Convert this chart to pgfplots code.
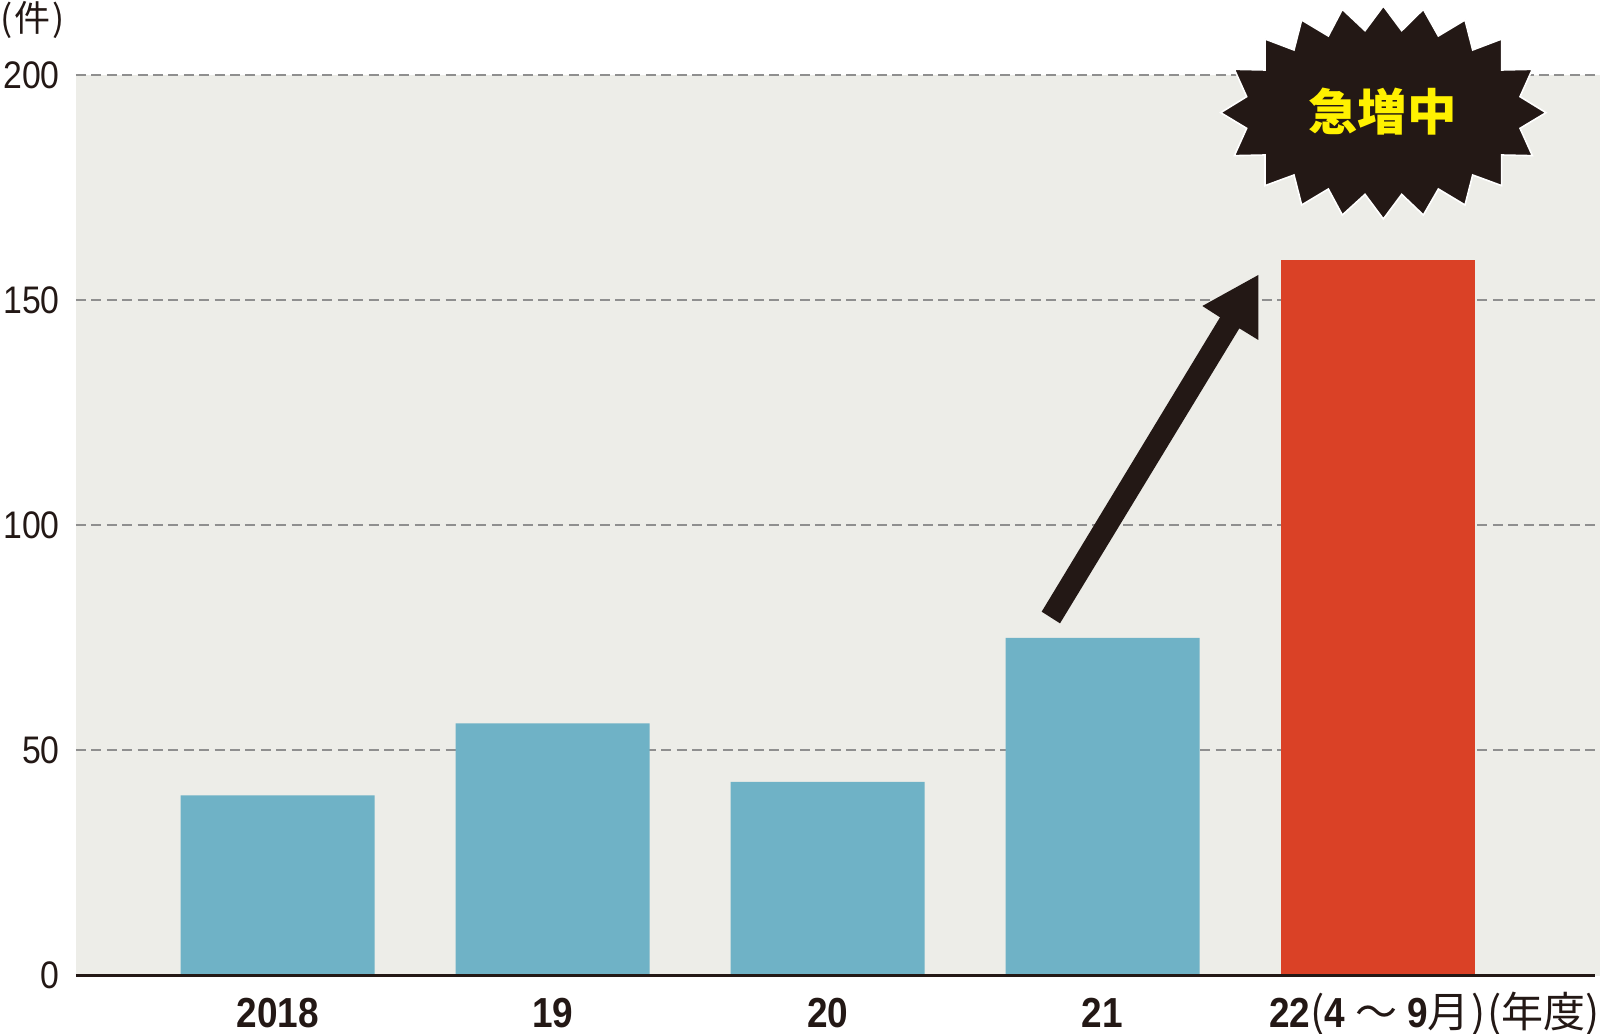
\documentclass[border=0pt]{standalone}
\usepackage{fontspec}
\setmainfont{Liberation Sans}[FakeStretch=0.88]
\newfontfamily\cjk{Noto Sans CJK JP}
\usepackage{pgfplots}
\pgfplotsset{compat=1.18}
\definecolor{bgc}{HTML}{EDEDE8}
\definecolor{barblue}{HTML}{6FB2C6}
\definecolor{barred}{HTML}{DA4126}
\definecolor{txt}{HTML}{231815}
\definecolor{gridc}{HTML}{8F8F8F}
\definecolor{yel}{HTML}{FFF100}
\begin{document}
\begin{tikzpicture}
\useasboundingbox (-38pt,-28.75pt) rectangle (762pt,487.75pt);
\begin{axis}[
 at={(0pt,0pt)}, anchor=south west,
 scale only axis, width=762pt, height=450pt,
 xmin=-0.733, xmax=4.809, ymin=0, ymax=200,
 axis background/.style={fill=bgc},
 axis line style={draw=none},
 major tick length=0pt,
 ytick={0,50,100,150,200},
 xtick={0,1,2,3,4},
 xticklabels={2018,19,20,21,{22{\cjk\mdseries(}4\hspace{5pt}{\cjk\mdseries 〜}\hspace{5pt}9{\cjk\mdseries 月\hspace{1pt})}}},
 ymajorgrids,
 grid style={gridc, line width=1pt, dash pattern=on 5pt off 2.7pt},
 yticklabel style={anchor=east, inner sep=0pt, xshift=-8pt, font=\fontsize{19.2}{20}\selectfont, text=txt},
 xticklabel style={anchor=base, inner sep=0pt, yshift=-26pt, font=\fontsize{21}{22}\selectfont\bfseries, text=txt},
 /pgf/number format/assume math mode=true,
 clip=false,
]
\addplot[ybar, bar width=97pt, bar shift=0pt, fill=barblue, draw=none] coordinates {(0,40) (1,56) (2,43) (3,75)};
\addplot[ybar, bar width=97pt, bar shift=0pt, fill=barred, draw=none] coordinates {(4,159)};
\draw[txt, line width=1.5pt] (rel axis cs:0,0) -- (rel axis cs:0.997,0);
\end{axis}
\node[anchor=west, inner sep=0pt, text=txt, font=\cjk\fontsize{18}{20}\selectfont] at (-38pt,477.75pt) {(\hspace{1pt}件\hspace{1pt})};
\node[anchor=base east, inner sep=0pt, text=txt, font=\cjk\fontsize{21}{22}\selectfont] at (762pt,-26pt) {(年度)};
% arrow
\begin{scope}[shift={(462pt,357.75pt)}, x=0.16667pt, y=-0.16667pt]
\fill[txt] (125,1055) -- (660,172) -- (607,138) -- (775,45) -- (775,240) -- (718,205) -- (180,1090) -- cycle;
\end{scope}
% starburst
\begin{scope}[shift={(552pt,487.75pt)}, x=0.16667pt, y=-0.16667pt]
\filldraw[fill=txt, draw=white, line width=0.8pt]
 (610,18) -- (665,92) -- (730,28) -- (775,108) -- (855,60) -- (878,150) -- (965,117) -- (965,210) -- (1057,208) -- (1020,290) -- (1098,338) -- (1020,385) -- (1057,467) -- (965,465) -- (965,557) -- (878,525) -- (855,615) -- (775,567) -- (730,645) -- (665,583) -- (610,657) -- (555,583) -- (487,645) -- (445,567) -- (365,615) -- (342,525) -- (255,557) -- (255,465) -- (163,467) -- (200,385) -- (122,338) -- (200,290) -- (163,208) -- (255,210) -- (255,117) -- (342,150) -- (365,60) -- (445,108) -- (487,28) -- (555,92) -- cycle;
\end{scope}
\node[inner sep=0pt, text=yel, font=\cjk\bfseries\fontsize{24.7}{26}\selectfont] at (653.3pt,431.9pt) {急増中};
\end{tikzpicture}
\end{document}
